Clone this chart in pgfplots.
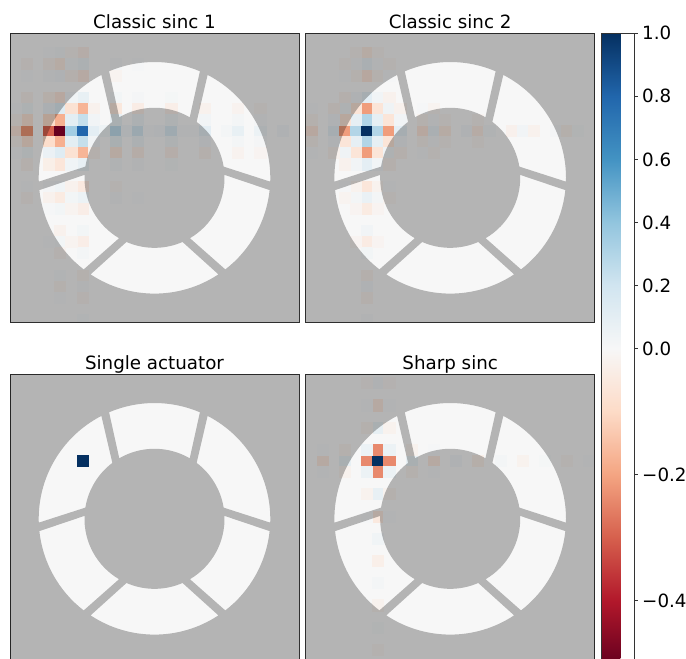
\documentclass[border=0pt]{standalone}
\usepackage{fontspec}
\setmainfont{DejaVu Sans}
\usepackage{pgfplots}
\usepackage{pgfplotstable}
\pgfplotsset{compat=1.18}
\definecolor{bgw}{RGB}{247,247,247}

% Classic sinc 1 : column c, row r (from top), value v
\pgfplotstableread{
c r v
0 8 -0.06
1 8 -0.22
3 8 -0.30
4 8 -0.60
5 8 0.35
6 8 0.80
7 8 0.10
8 8 0.05
9 8 0.25
10 8 0.04
11 8 0.18
12 8 0.02
13 8 0.03
14 8 0.15
15 8 0.02
16 8 0.02
17 8 0.10
19 8 0.02
20 8 0.08
22 8 0.06
24 8 0.03
4 -1 -0.020
4 1 0.026
4 2 -0.043
4 3 0.036
4 5 -0.06
4 6 0.127
4 7 -0.18
4 9 -0.18
4 10 0.127
4 11 -0.06
4 13 0.036
4 14 -0.043
4 15 0.026
4 17 -0.020
4 18 0.025
4 19 -0.016
4 21 0.014
4 22 -0.018
4 23 0.012
6 -1 0.026
6 1 -0.034
6 2 0.057
6 3 -0.048
6 5 0.08
6 6 -0.17
6 7 0.24
6 9 0.24
6 10 -0.17
6 11 0.08
6 13 -0.048
6 14 0.057
6 15 -0.034
6 17 0.026
6 18 -0.034
6 19 0.022
6 21 -0.018
6 22 0.024
6 23 -0.016
6 25 0.014
5 -1 0.012
5 1 -0.015
5 2 0.025
5 3 -0.021
5 5 0.035
5 6 -0.074
5 7 0.105
5 9 0.105
5 10 -0.074
5 11 0.035
5 13 -0.021
5 14 0.025
5 15 -0.015
5 18 -0.015
3 1 0.013
3 2 -0.021
3 3 0.018
3 5 -0.03
3 6 0.064
3 7 -0.09
3 9 -0.09
3 10 0.064
3 11 -0.03
3 13 0.018
3 14 -0.021
3 15 0.013
3 18 0.013
9 2 0.018
9 3 -0.015
9 5 0.025
9 6 -0.053
9 7 0.075
9 9 0.075
9 10 -0.053
9 11 0.025
9 13 -0.015
9 14 0.018
1 2 -0.016
1 3 0.013
1 5 -0.022
1 6 0.047
1 7 -0.066
1 9 -0.066
1 10 0.047
1 11 -0.022
1 13 0.013
1 14 -0.016
11 2 0.013
11 5 0.018
11 6 -0.038
11 7 0.054
11 9 0.054
11 10 -0.038
11 11 0.018
11 14 0.013
14 5 0.015
14 6 -0.032
14 7 0.045
14 9 0.045
14 10 -0.032
14 11 0.015
7 6 -0.021
7 7 0.03
7 9 0.03
7 10 -0.021
17 6 -0.021
17 7 0.03
17 9 0.03
17 10 -0.021
20 6 -0.017
20 7 0.024
20 9 0.024
20 10 -0.017
22 6 -0.013
22 7 0.018
22 9 0.018
22 10 -0.013
0 6 0.013
0 7 -0.018
0 9 -0.018
0 10 0.013
}\tA

% Classic sinc 2
\pgfplotstableread{
c r v
0 8 -0.060
2 8 0.100
3 8 -0.212
4 8 0.300
5 8 1.0
6 8 0.300
7 8 -0.212
8 8 0.100
10 8 -0.060
11 8 0.071
12 8 -0.043
14 8 0.033
15 8 -0.042
16 8 0.027
18 8 -0.023
19 8 0.030
20 8 -0.020
22 8 0.018
23 8 -0.024
24 8 0.016
5 -1 0.033
5 1 -0.043
5 2 0.071
5 3 -0.060
5 5 0.100
5 6 -0.212
5 7 0.300
5 9 0.300
5 10 -0.212
5 11 0.100
5 13 -0.060
5 14 0.071
5 15 -0.043
5 17 0.033
5 18 -0.042
5 19 0.027
5 21 -0.023
5 22 0.030
5 23 -0.020
5 25 0.018
4 1 -0.013
4 2 0.021
4 3 -0.018
4 5 0.030
4 6 -0.064
4 7 0.090
4 9 0.090
4 10 -0.064
4 11 0.030
4 13 -0.018
4 14 0.021
4 15 -0.013
4 18 -0.013
6 1 -0.013
6 2 0.021
6 3 -0.018
6 5 0.030
6 6 -0.064
6 7 0.090
6 9 0.090
6 10 -0.064
6 11 0.030
6 13 -0.018
6 14 0.021
6 15 -0.013
6 18 -0.013
3 2 -0.015
3 3 0.013
3 5 -0.021
3 6 0.045
3 7 -0.064
3 9 -0.064
3 10 0.045
3 11 -0.021
3 13 0.013
3 14 -0.015
7 2 -0.015
7 3 0.013
7 5 -0.021
7 6 0.045
7 7 -0.064
7 9 -0.064
7 10 0.045
7 11 -0.021
7 13 0.013
7 14 -0.015
2 6 -0.021
2 7 0.030
2 9 0.030
2 10 -0.021
8 6 -0.021
8 7 0.030
8 9 0.030
8 10 -0.021
0 6 0.013
0 7 -0.018
0 9 -0.018
0 10 0.013
10 6 0.013
10 7 -0.018
10 9 -0.018
10 10 0.013
11 6 -0.015
11 7 0.021
11 9 0.021
11 10 -0.015
12 7 -0.013
12 9 -0.013
15 7 -0.013
15 9 -0.013
}\tB

% Single actuator
\pgfplotstableread{
c r v
6 7 1.0
}\tC

% Sharp sinc
\pgfplotstableread{
c r v
1 7 -0.05
3 7 0.08
5 7 -0.24
6 7 1.0
7 7 -0.24
9 7 0.08
11 7 -0.05
13 7 0.036
15 7 -0.028
17 7 0.023
19 7 -0.019
21 7 0.017
23 7 -0.015
25 7 0.013
6 0 0.036
6 2 -0.05
6 4 0.08
6 6 -0.24
6 8 -0.24
6 10 0.08
6 12 -0.05
6 14 0.036
6 16 -0.028
6 18 0.023
6 20 -0.019
6 22 0.017
6 24 -0.015
5 6 0.058
7 6 0.058
5 8 0.058
7 8 0.058
5 4 -0.019
7 4 -0.019
5 10 -0.019
7 10 -0.019
5 2 0.012
7 2 0.012
5 12 0.012
7 12 0.012
5 0 -0.010
7 0 -0.010
3 6 -0.019
9 6 -0.019
3 8 -0.019
9 8 -0.019
1 6 0.012
11 6 0.012
1 8 0.012
11 8 0.012
}\tD

\pgfplotsset{
  colormap={rdbu}{rgb255=(103,0,31) rgb255=(178,24,43) rgb255=(214,96,77) rgb255=(244,165,130) rgb255=(253,219,199) rgb255=(247,247,247) rgb255=(209,229,240) rgb255=(146,197,222) rgb255=(67,147,195) rgb255=(33,102,172) rgb255=(5,48,97)},
  panel/.style={
    set layers, clip marker paths=true,
    anchor=north west, scale only axis, width=216.75pt, height=216.75pt,
    xmin=0, xmax=26, ymin=0, ymax=26, xtick=\empty, ytick=\empty,
    axis on top, axis line style={black!80, line width=0.7pt},
    axis background/.style={fill=bgw},
    colormap name=rdbu, point meta min=0, point meta max=1,
    title style={font=\fontsize{13.7}{16}\selectfont, anchor=base, yshift=-2.25pt},
  },
  mycells/.style={scatter, only marks, mark=square*, mark size=4.17pt,
    scatter/use mapped color={draw=mapped color, fill=mapped color},
    mark options={line width=0.2pt}, point meta=explicit},
}
\tikzset{seg/.style n args={4}{insert path={([shift={(#1:86.85pt)}]axis cs:13,13) arc[start angle=#1, end angle=#2, radius=86.85pt] -- ([shift={(#3:52.52pt)}]axis cs:13,13) arc[start angle=#3, end angle=#4, radius=52.52pt] -- cycle}}}
\newcommand{\pupilmask}{\begin{pgfonlayer}{axis foreground}\fill[black, opacity=0.27, even odd rule] (axis cs:0,0) rectangle (axis cs:26,26) [seg={-1.9}{62.7}{53.0}{9.2}] [seg={66.9}{113.1}{120.2}{59.8}] [seg={117.3}{181.9}{170.8}{127.0}] [seg={186.1}{232.3}{239.6}{177.6}] [seg={236.5}{303.5}{293.6}{246.4}] [seg={307.7}{353.9}{362.4}{300.4}];\end{pgfonlayer}}

\begin{document}
\begin{tikzpicture}
\begin{axis}[panel, at={(7.5pt,-24.98pt)}, title={Classic sinc 1}]
\addplot[mycells] table[x expr=\thisrow{c}+0.5, y expr=25.23-\thisrow{r}, meta expr={max(0,min(1,(\thisrow{v}>0)*(0.5+0.5*\thisrow{v})+(\thisrow{v}<=0)*(0.5+\thisrow{v})))}] {\tA};
\pupilmask
\end{axis}
\begin{axis}[panel, at={(229.28pt,-24.98pt)}, title={Classic sinc 2},
  colorbar,
  colorbar style={
    at={(parent axis.north east)}, anchor=north west, xshift=-3.53pt,
    scale only axis, width=24.5pt, height=472.7pt,
    ytick={0.1,0.3,0.5,0.6,0.7,0.8,0.9,1},
    yticklabels={−0.4,−0.2,0.0,0.2,0.4,0.6,0.8,1.0},
    yticklabel style={font=\fontsize{13.7}{16}\selectfont},
    ytick pos=right, yticklabel pos=right,
    tick align=outside, major tick length=2.6pt,
    ytick style={black!80, line width=0.6pt},
    axis line style={black!80, line width=0.7pt},
  }]
\addplot[mycells] table[x expr=\thisrow{c}+0.5, y expr=25.23-\thisrow{r}, meta expr={max(0,min(1,(\thisrow{v}>0)*(0.5+0.5*\thisrow{v})+(\thisrow{v}<=0)*(0.5+\thisrow{v})))}] {\tB};
\pupilmask
\end{axis}
\begin{axis}[panel, at={(7.5pt,-280.73pt)}, title={Single actuator}]
\addplot[mycells] table[x expr=\thisrow{c}+0.5, y expr=25.23-\thisrow{r}, meta expr={max(0,min(1,(\thisrow{v}>0)*(0.5+0.5*\thisrow{v})+(\thisrow{v}<=0)*(0.5+\thisrow{v})))}] {\tC};
\pupilmask
\end{axis}
\begin{axis}[panel, at={(229.28pt,-280.73pt)}, title={Sharp sinc}]
\addplot[mycells] table[x expr=\thisrow{c}+0.5, y expr=25.23-\thisrow{r}, meta expr={max(0,min(1,(\thisrow{v}>0)*(0.5+0.5*\thisrow{v})+(\thisrow{v}<=0)*(0.5+\thisrow{v})))}] {\tD};
\pupilmask
\end{axis}
\pgfresetboundingbox
\path[use as bounding box] (0pt,0pt) rectangle (514.5pt,-494.25pt);
\end{tikzpicture}
\end{document}
